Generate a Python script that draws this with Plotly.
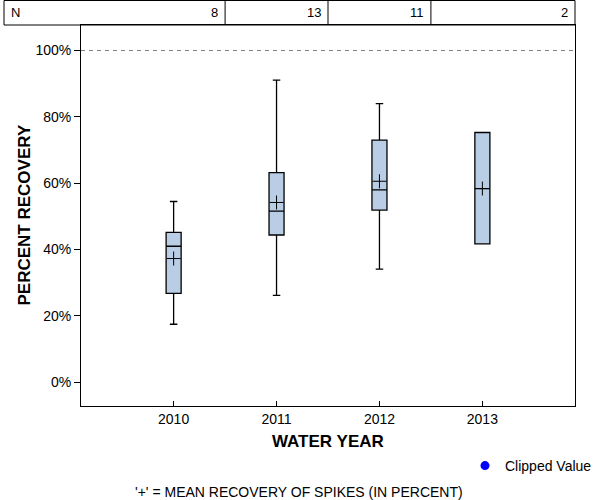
import plotly.graph_objects as go

years = ['2010', '2011', '2012', '2013']
n_counts = [8, 13, 11, 2]
q1_vals = [26.8, 44.4, 51.9, 41.7]
median_vals = [41.0, 51.6, 58.0, 58.4]
q3_vals = [45.2, 63.2, 73.0, 75.3]
lower_vals = [17.5, 26.2, 34.1, 41.7]
upper_vals = [54.5, 91.1, 84.0, 75.3]
mean_vals = [37.3, 54.2, 60.6, 58.4]
y_ticks = [0, 20, 40, 60, 80, 100]
y_tick_labels = [f'{v}%' for v in y_ticks]

positions = list(range(len(years)))
XMIN, XMAX = -0.9, 3.9
YMIN, YMAX = -7.15, 107.7
FONT = 'Liberation Sans'

# layout geometry (pixels)
W, H = 600, 500
ML, MR, MT, MB = 81, 25, 25, 94
PW = W - ML - MR
PH = H - MT - MB


def px_x(px):
    return (px - ML) / PW


def px_y(py):
    return (H - MB - py) / PH


def data_x(v):
    return (v - XMIN) / (XMAX - XMIN)


fig = go.Figure()

fig.add_trace(go.Box(
    x=positions, q1=q1_vals, median=median_vals, q3=q3_vals,
    lowerfence=lower_vals, upperfence=upper_vals,
    width=0.146, whiskerwidth=0.5,
    fillcolor='#B9CDE5', line=dict(color='black', width=1.3),
    boxpoints=False, showlegend=False, hoverinfo='skip'))

fig.add_trace(go.Scatter(
    x=positions, y=mean_vals, mode='markers',
    marker=dict(symbol='cross-thin', size=10, color='black',
                line=dict(width=1, color='black')),
    showlegend=False, hoverinfo='skip'))

fig.add_trace(go.Scatter(
    x=[None], y=[None], mode='markers', name='Clipped Value',
    marker=dict(color='#0000FF', size=9), showlegend=True))

shapes = []
# 100% reference line
shapes.append(dict(type='line', xref='paper', yref='y', x0=0, x1=1, y0=100, y1=100,
                   line=dict(color='#808080', width=1, dash='4px,4px')))
# N table
top = px_y(0.5)
shapes.append(dict(type='rect', xref='paper', yref='paper', x0=px_x(4), x1=1,
                   y0=1, y1=top, line=dict(color='black', width=1)))
for i in range(len(years) - 1):
    xd = data_x(positions[i] + 0.5)
    shapes.append(dict(type='line', xref='paper', yref='paper', x0=xd, x1=xd,
                       y0=1, y1=top, line=dict(color='black', width=1)))

annotations = []
row_y = px_y(12.5)
annotations.append(dict(text='N', xref='paper', yref='paper', x=px_x(9), y=row_y,
                        xanchor='left', yanchor='middle', showarrow=False,
                        font=dict(size=13, color='black', family=FONT)))
for i, n in enumerate(n_counts):
    right = data_x(positions[i] + 0.5) if i < len(n_counts) - 1 else 1
    annotations.append(dict(text=str(n), xref='paper', yref='paper', x=right, y=row_y,
                            xanchor='right', yanchor='middle', xshift=-5, showarrow=False,
                            font=dict(size=13, color='black', family=FONT)))

annotations.append(dict(text='<b>WATER YEAR</b>', xref='paper', yref='paper',
                        x=0.5, y=px_y(441), xanchor='center', yanchor='middle',
                        showarrow=False, font=dict(size=17, color='black', family=FONT)))
annotations.append(dict(text='<b>PERCENT RECOVERY</b>', xref='paper', yref='paper',
                        x=px_x(24), y=0.5, xanchor='center', yanchor='middle', textangle=-90,
                        showarrow=False, font=dict(size=17, color='black', family=FONT)))
annotations.append(dict(text="'+' = MEAN RECOVERY OF SPIKES (IN PERCENT)", xref='paper',
                        yref='paper', x=px_x(299), y=px_y(492), xanchor='center',
                        yanchor='middle', showarrow=False,
                        font=dict(size=14, color='black', family=FONT)))

fig.update_layout(
    width=W, height=H,
    margin=dict(l=ML, r=MR, t=MT, b=MB, pad=0, autoexpand=False),
    plot_bgcolor='white', paper_bgcolor='white',
    font=dict(family=FONT, size=14, color='black'),
    shapes=shapes, annotations=annotations,
    legend=dict(x=px_x(465), y=px_y(466), xanchor='left', yanchor='middle',
                bgcolor='rgba(0,0,0,0)', font=dict(size=14, color='black', family=FONT)),
    xaxis=dict(range=[XMIN, XMAX], tickvals=positions, ticktext=years,
               ticks='inside', ticklen=5, tickcolor='black', showline=True,
               linecolor='black', linewidth=1, mirror=True, showgrid=False,
               zeroline=False, tickfont=dict(size=14, color='black', family=FONT)),
    yaxis=dict(range=[YMIN, YMAX], tickvals=y_ticks, ticktext=y_tick_labels,
               ticks='outside', ticklen=6, tickcolor='black', showline=True,
               linecolor='black', linewidth=1, mirror=True, showgrid=False,
               zeroline=False, tickfont=dict(size=14, color='black', family=FONT)),
)

fig.write_html('out.html', config={'displayModeBar': False},
               post_script="document.body.style.margin='0';document.body.style.overflow='hidden';")
